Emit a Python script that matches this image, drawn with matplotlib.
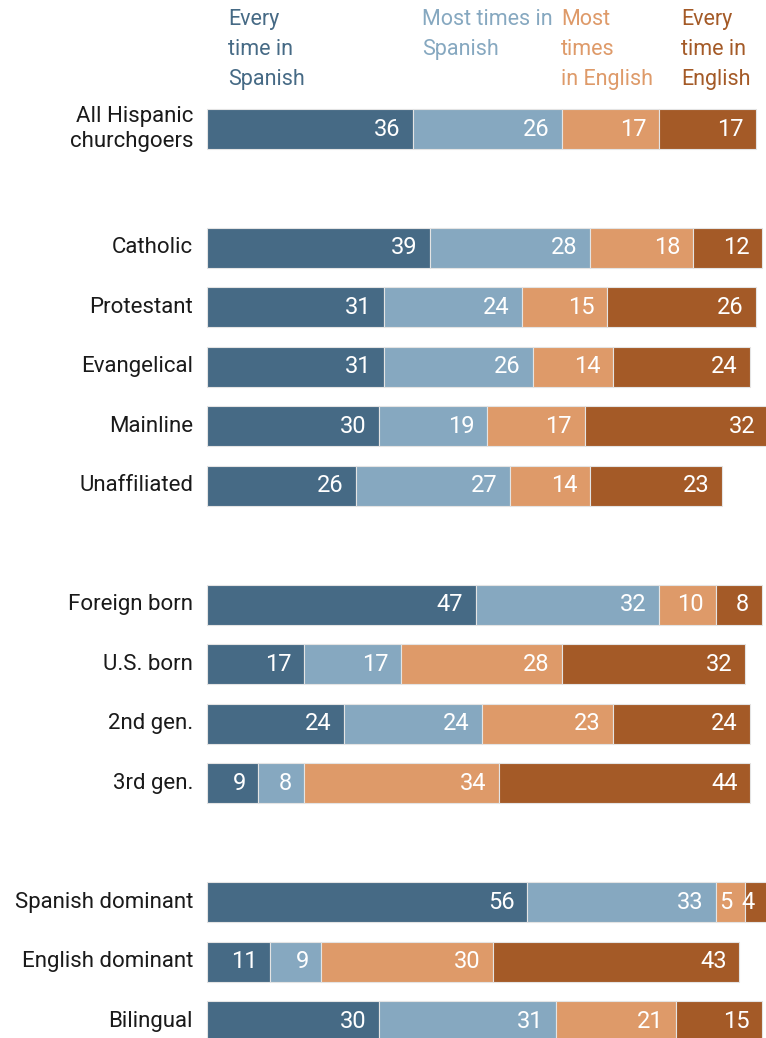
import matplotlib
matplotlib.use("Agg")
import matplotlib.pyplot as plt

plt.rcParams['font.family'] = ['Roboto', 'DejaVu Sans']

series = ["Every\ntime in\nSpanish", "Most times in\nSpanish",
          "Most\ntimes\nin English", "Every\ntime in\nEnglish"]
colors = ["#466a85", "#86a8c0", "#de9a69", "#a45a27"]

groups = [
    ["All Hispanic\nchurchgoers"],
    ["Catholic", "Protestant", "Evangelical", "Mainline", "Unaffiliated"],
    ["Foreign born", "U.S. born", "2nd gen.", "3rd gen."],
    ["Spanish dominant", "English dominant", "Bilingual"],
]

every_spanish = [36, 39, 31, 31, 30, 26, 47, 17, 24, 9, 56, 11, 30]
most_spanish = [26, 28, 24, 26, 19, 27, 32, 17, 24, 8, 33, 9, 31]
most_english = [17, 18, 15, 14, 17, 14, 10, 28, 23, 34, 5, 30, 21]
every_english = [17, 12, 26, 24, 32, 23, 8, 32, 24, 44, 4, 43, 15]
values = [every_spanish, most_spanish, most_english, every_english]

# one empty row between groups
labels, rows = [], []
r = 0
for g in groups:
    for name in g:
        labels.append(name)
        rows.append(r)
        r += 1
    r += 1

W, H = 766, 1038
fig = plt.figure(figsize=(W / 100, H / 100), dpi=100)
x0 = 207
ax = fig.add_axes([x0 / W, 0, (W - x0) / W, 1])
px_per_unit = 5.72
row_px = 59.47
first_row = 129
ax.set_xlim(0, (W - x0) / px_per_unit)
ax.set_ylim((H - first_row) / row_px, -first_row / row_px)
ax.axis("off")

left = [0] * len(labels)
for vals, c in zip(values, colors):
    bars = ax.barh(rows, vals, left=left, height=0.67, color=c,
                   edgecolor="#e4e4e4", linewidth=0.8, clip_on=False)
    for b, v in zip(bars, vals):
        ax.annotate(str(v), (b.get_x() + b.get_width(), b.get_y() + b.get_height() / 2),
                    xytext=(-9, 0), textcoords="offset points",
                    ha="right", va="center", color="white", fontsize=17,
                    annotation_clip=False)
    left = [a + v for a, v in zip(left, vals)]

for name, y in zip(labels, rows):
    ax.annotate(name, (0, y), xytext=(-10, 0), textcoords="offset points",
                ha="right", va="center", fontsize=16, color="#1a1a1a",
                linespacing=1.2, annotation_clip=False)

header_x = [228, 422, 561, 681]
for text, c, hx in zip(series, colors, header_x):
    fig.text(hx / W, 1 - 9 / H, text, ha="left", va="top", color=c,
             fontsize=15.5, linespacing=1.55)

fig.savefig("out.png", dpi=100)
